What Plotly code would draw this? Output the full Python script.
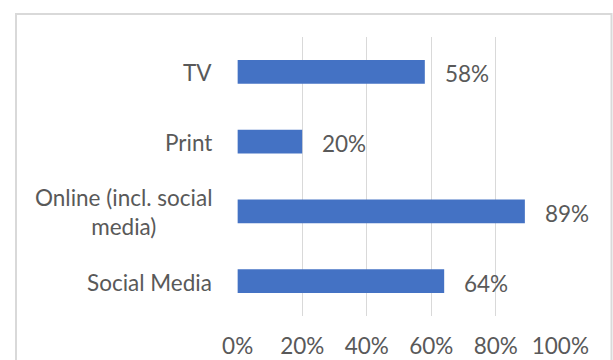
import plotly.graph_objects as go

categories = ["TV", "Print", "Online (incl. social<br>media)", "Social Media"]
values = [0.58, 0.20, 0.89, 0.64]
tick_vals = [0, 0.2, 0.4, 0.6, 0.8, 1.0]
tick_text = ["0%", "20%", "40%", "60%", "80%", "100%"]

W, H = 613, 360
ML, MR, MT, MB = 237, 52, 37, 44
FONT = "Lato"
TXT = "#595959"
FS = 22.5

fig = go.Figure(go.Bar(
    x=values, y=categories, orientation="h",
    marker=dict(color="#4472C4", line=dict(width=0)),
    width=0.34, hoverinfo="skip",
))

annotations = []
for c, v in zip(categories, values):
    annotations.append(dict(x=0, xref="paper", y=c, yref="y", text=c,
                            xanchor="right", yanchor="middle", align="center",
                            xshift=-23, yshift=-1, showarrow=False,
                            font=dict(family=FONT, size=FS, color=TXT)))
    annotations.append(dict(x=v, xref="x", y=c, yref="y", text=f"{round(v*100)}%",
                            xanchor="left", yanchor="middle", xshift=18, yshift=-2,
                            showarrow=False,
                            font=dict(family=FONT, size=FS, color=TXT)))

pw = W - ML - MR
ph = H - MT - MB
def px_x(p):
    return (p - ML) / pw
def px_y(p):
    return (H - MB - p) / ph

fig.add_shape(type="rect", xref="paper", yref="paper",
              x0=px_x(16), x1=px_x(611.5), y0=px_y(380), y1=px_y(14),
              line=dict(color="#d9d9d9", width=2), fillcolor="rgba(0,0,0,0)", layer="below")

fig.update_layout(
    width=W, height=H,
    margin=dict(l=ML, r=MR, t=MT, b=MB, pad=0, autoexpand=False),
    paper_bgcolor="white", plot_bgcolor="white",
    showlegend=False,
    annotations=annotations,
    font=dict(family=FONT, size=FS, color=TXT),
    xaxis=dict(range=[-0.002, 1.002], tickvals=tick_vals, ticktext=tick_text,
               showgrid=True, gridcolor="#d9d9d9", gridwidth=1,
               zeroline=False, showline=False, ticks="", automargin=False,
               ticklabelstandoff=14,
               tickfont=dict(family=FONT, size=FS, color=TXT), fixedrange=True),
    yaxis=dict(categoryorder="array", categoryarray=categories, autorange="reversed",
               showticklabels=False, showgrid=False, zeroline=False, showline=False,
               ticks="", automargin=False, fixedrange=True),
)

fig.write_html("out.html")
